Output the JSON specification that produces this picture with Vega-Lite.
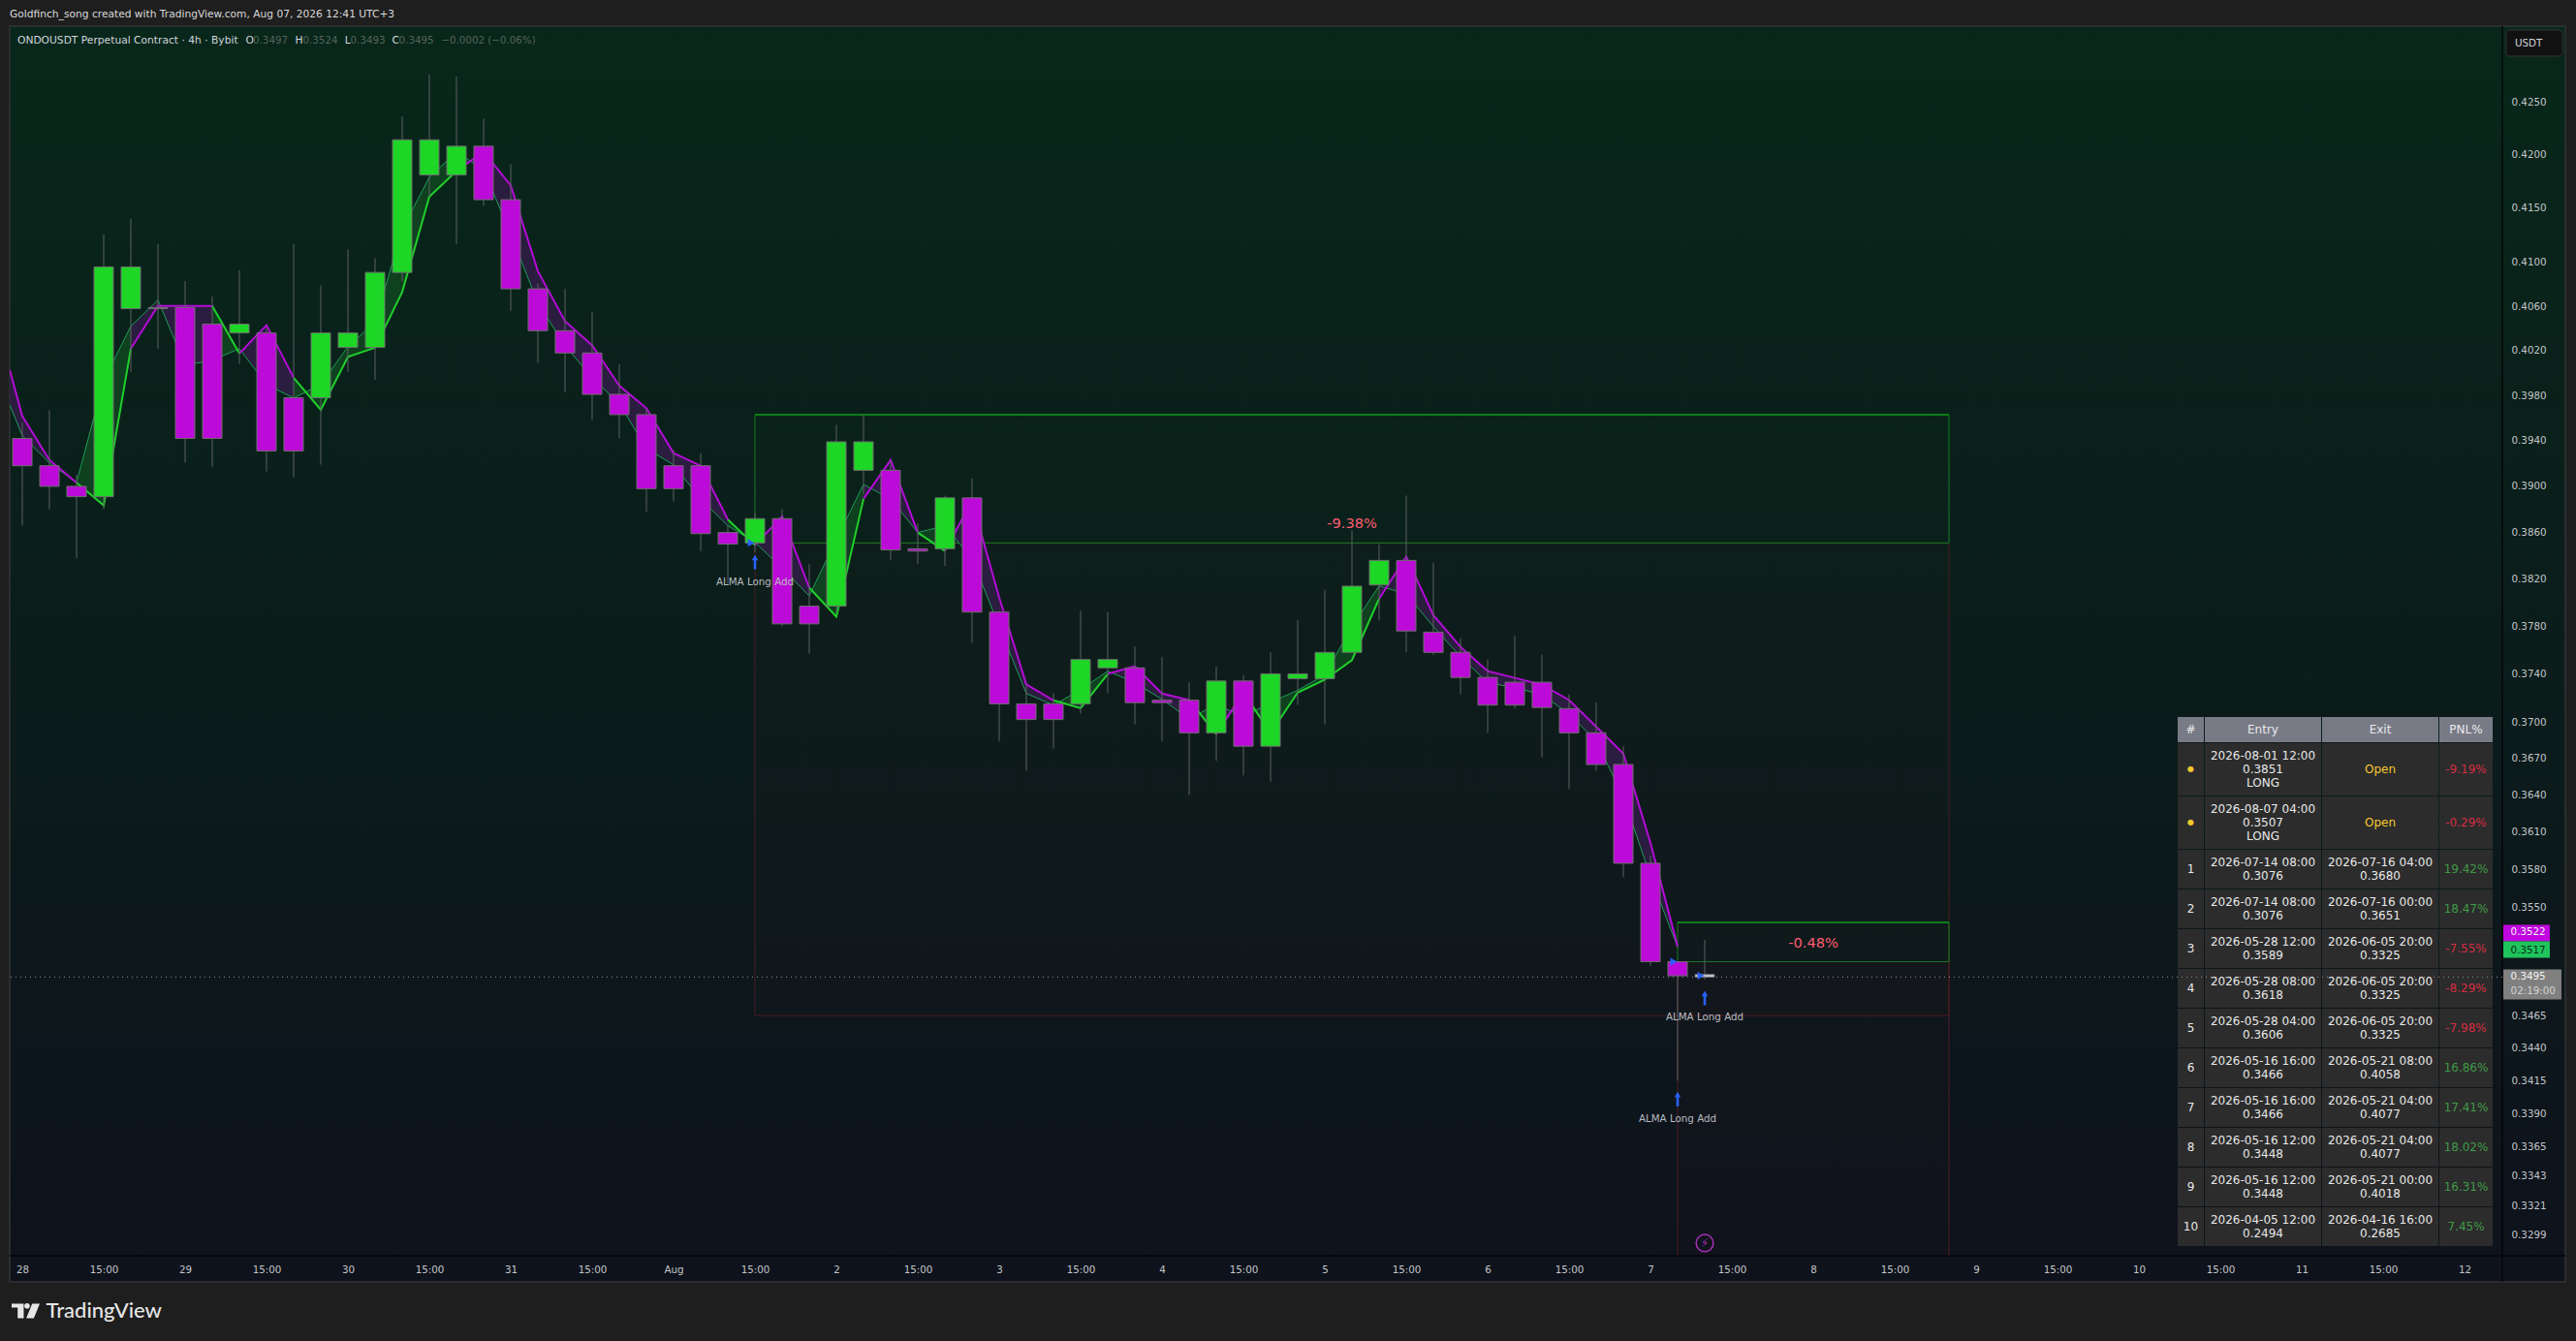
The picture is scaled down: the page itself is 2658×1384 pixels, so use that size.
{
  "$schema": "https://vega.github.io/schema/vega-lite/v6.json",
  "width": 2572,
  "height": 1269,
  "autosize": {"type": "none"},
  "padding": {"left": 10, "top": 27, "right": 76, "bottom": 88},
  "background": "#1e1e1e",
  "config": {
    "view": {"stroke": null},
    "text": {"font": "DejaVu Sans"}
  },
  "datasets": {
    "frame": [
      {"from": "2026-07-28T01:08:34Z", "axisStart": "2026-08-12T08:34:17Z", "to": "2026-08-12T17:52Z", "top": 0.43224, "plotBottom": 0.3284, "bottom": 0.32648}
    ],
    "candles": [
      {"t": "2026-07-28T03:00Z", "open": 0.3942, "high": 0.3956, "low": 0.3866, "close": 0.3918, "dir": "down"},
      {"t": "2026-07-28T07:00Z", "open": 0.3918, "high": 0.3967, "low": 0.388, "close": 0.39, "dir": "down"},
      {"t": "2026-07-28T11:00Z", "open": 0.39, "high": 0.391, "low": 0.3838, "close": 0.3891, "dir": "down"},
      {"t": "2026-07-28T15:00Z", "open": 0.3891, "high": 0.4126, "low": 0.388, "close": 0.4096, "dir": "up"},
      {"t": "2026-07-28T19:00Z", "open": 0.4058, "high": 0.414, "low": 0.4001, "close": 0.4096, "dir": "up"},
      {"t": "2026-07-28T23:00Z", "open": 0.4059, "high": 0.4117, "low": 0.4022, "close": 0.4058, "dir": "down"},
      {"t": "2026-07-29T03:00Z", "open": 0.4059, "high": 0.4083, "low": 0.3921, "close": 0.3942, "dir": "down"},
      {"t": "2026-07-29T07:00Z", "open": 0.4044, "high": 0.4069, "low": 0.3917, "close": 0.3942, "dir": "down"},
      {"t": "2026-07-29T11:00Z", "open": 0.4036, "high": 0.4093, "low": 0.4008, "close": 0.4044, "dir": "up"},
      {"t": "2026-07-29T15:00Z", "open": 0.4036, "high": 0.4041, "low": 0.3913, "close": 0.3931, "dir": "down"},
      {"t": "2026-07-29T19:00Z", "open": 0.3978, "high": 0.4117, "low": 0.3908, "close": 0.3931, "dir": "down"},
      {"t": "2026-07-29T23:00Z", "open": 0.3978, "high": 0.4079, "low": 0.3919, "close": 0.4036, "dir": "up"},
      {"t": "2026-07-30T03:00Z", "open": 0.4023, "high": 0.4112, "low": 0.4001, "close": 0.4036, "dir": "up"},
      {"t": "2026-07-30T07:00Z", "open": 0.4023, "high": 0.4104, "low": 0.3994, "close": 0.4091, "dir": "up"},
      {"t": "2026-07-30T11:00Z", "open": 0.4091, "high": 0.4236, "low": 0.4083, "close": 0.4214, "dir": "up"},
      {"t": "2026-07-30T15:00Z", "open": 0.4181, "high": 0.4276, "low": 0.4161, "close": 0.4214, "dir": "up"},
      {"t": "2026-07-30T19:00Z", "open": 0.4181, "high": 0.4274, "low": 0.4117, "close": 0.4208, "dir": "up"},
      {"t": "2026-07-30T23:00Z", "open": 0.4208, "high": 0.4234, "low": 0.4152, "close": 0.4158, "dir": "down"},
      {"t": "2026-07-31T03:00Z", "open": 0.4158, "high": 0.4191, "low": 0.4056, "close": 0.4076, "dir": "down"},
      {"t": "2026-07-31T07:00Z", "open": 0.4076, "high": 0.4081, "low": 0.4009, "close": 0.4038, "dir": "down"},
      {"t": "2026-07-31T11:00Z", "open": 0.4038, "high": 0.4076, "low": 0.3983, "close": 0.4018, "dir": "down"},
      {"t": "2026-07-31T15:00Z", "open": 0.4018, "high": 0.4055, "low": 0.3958, "close": 0.3981, "dir": "down"},
      {"t": "2026-07-31T19:00Z", "open": 0.3981, "high": 0.4008, "low": 0.3942, "close": 0.3963, "dir": "down"},
      {"t": "2026-07-31T23:00Z", "open": 0.3963, "high": 0.3968, "low": 0.3878, "close": 0.3898, "dir": "down"},
      {"t": "2026-08-01T03:00Z", "open": 0.3918, "high": 0.3932, "low": 0.3887, "close": 0.3898, "dir": "down"},
      {"t": "2026-08-01T07:00Z", "open": 0.3918, "high": 0.3929, "low": 0.3844, "close": 0.3859, "dir": "down"},
      {"t": "2026-08-01T11:00Z", "open": 0.386, "high": 0.3866, "low": 0.3816, "close": 0.385, "dir": "down"},
      {"t": "2026-08-01T15:00Z", "open": 0.3851, "high": 0.3877, "low": 0.3843, "close": 0.3872, "dir": "up"},
      {"t": "2026-08-01T19:00Z", "open": 0.3872, "high": 0.388, "low": 0.378, "close": 0.3782, "dir": "down"},
      {"t": "2026-08-01T23:00Z", "open": 0.3797, "high": 0.3833, "low": 0.3757, "close": 0.3782, "dir": "down"},
      {"t": "2026-08-02T03:00Z", "open": 0.3797, "high": 0.3954, "low": 0.3791, "close": 0.3939, "dir": "up"},
      {"t": "2026-08-02T07:00Z", "open": 0.3914, "high": 0.3963, "low": 0.3893, "close": 0.3939, "dir": "up"},
      {"t": "2026-08-02T11:00Z", "open": 0.3914, "high": 0.3923, "low": 0.3836, "close": 0.3845, "dir": "down"},
      {"t": "2026-08-02T15:00Z", "open": 0.3846, "high": 0.3868, "low": 0.3833, "close": 0.3844, "dir": "down"},
      {"t": "2026-08-02T19:00Z", "open": 0.3846, "high": 0.3892, "low": 0.3831, "close": 0.389, "dir": "up"},
      {"t": "2026-08-02T23:00Z", "open": 0.389, "high": 0.3907, "low": 0.3766, "close": 0.3792, "dir": "down"},
      {"t": "2026-08-03T03:00Z", "open": 0.3792, "high": 0.3793, "low": 0.3684, "close": 0.3715, "dir": "down"},
      {"t": "2026-08-03T07:00Z", "open": 0.3715, "high": 0.3731, "low": 0.366, "close": 0.3702, "dir": "down"},
      {"t": "2026-08-03T11:00Z", "open": 0.3715, "high": 0.3724, "low": 0.3678, "close": 0.3702, "dir": "down"},
      {"t": "2026-08-03T15:00Z", "open": 0.3715, "high": 0.3793, "low": 0.3707, "close": 0.3752, "dir": "up"},
      {"t": "2026-08-03T19:00Z", "open": 0.3745, "high": 0.3792, "low": 0.3724, "close": 0.3752, "dir": "up"},
      {"t": "2026-08-03T23:00Z", "open": 0.3745, "high": 0.3763, "low": 0.3698, "close": 0.3716, "dir": "down"},
      {"t": "2026-08-04T03:00Z", "open": 0.3718, "high": 0.3754, "low": 0.3684, "close": 0.3716, "dir": "down"},
      {"t": "2026-08-04T07:00Z", "open": 0.3718, "high": 0.3733, "low": 0.364, "close": 0.3691, "dir": "down"},
      {"t": "2026-08-04T11:00Z", "open": 0.3691, "high": 0.3746, "low": 0.3668, "close": 0.3734, "dir": "up"},
      {"t": "2026-08-04T15:00Z", "open": 0.3734, "high": 0.3739, "low": 0.3656, "close": 0.368, "dir": "down"},
      {"t": "2026-08-04T19:00Z", "open": 0.368, "high": 0.3758, "low": 0.3651, "close": 0.374, "dir": "up"},
      {"t": "2026-08-04T23:00Z", "open": 0.3736, "high": 0.3785, "low": 0.3714, "close": 0.374, "dir": "up"},
      {"t": "2026-08-05T03:00Z", "open": 0.3736, "high": 0.3811, "low": 0.3698, "close": 0.3758, "dir": "up"},
      {"t": "2026-08-05T07:00Z", "open": 0.3758, "high": 0.3862, "low": 0.3758, "close": 0.3814, "dir": "up"},
      {"t": "2026-08-05T11:00Z", "open": 0.3815, "high": 0.385, "low": 0.3785, "close": 0.3836, "dir": "up"},
      {"t": "2026-08-05T15:00Z", "open": 0.3836, "high": 0.3892, "low": 0.3758, "close": 0.3776, "dir": "down"},
      {"t": "2026-08-05T19:00Z", "open": 0.3775, "high": 0.3834, "low": 0.3756, "close": 0.3758, "dir": "down"},
      {"t": "2026-08-05T23:00Z", "open": 0.3758, "high": 0.377, "low": 0.3723, "close": 0.3737, "dir": "down"},
      {"t": "2026-08-06T03:00Z", "open": 0.3737, "high": 0.3752, "low": 0.3691, "close": 0.3714, "dir": "down"},
      {"t": "2026-08-06T07:00Z", "open": 0.3733, "high": 0.3772, "low": 0.3711, "close": 0.3714, "dir": "down"},
      {"t": "2026-08-06T11:00Z", "open": 0.3733, "high": 0.3756, "low": 0.3671, "close": 0.3712, "dir": "down"},
      {"t": "2026-08-06T15:00Z", "open": 0.3711, "high": 0.3723, "low": 0.3645, "close": 0.3691, "dir": "down"},
      {"t": "2026-08-06T19:00Z", "open": 0.3691, "high": 0.3716, "low": 0.366, "close": 0.3665, "dir": "down"},
      {"t": "2026-08-06T23:00Z", "open": 0.3665, "high": 0.368, "low": 0.3574, "close": 0.3585, "dir": "down"},
      {"t": "2026-08-07T03:00Z", "open": 0.3585, "high": 0.3591, "low": 0.3504, "close": 0.3507, "dir": "down"},
      {"t": "2026-08-07T07:00Z", "open": 0.3507, "high": 0.3507, "low": 0.3415, "close": 0.3496, "dir": "down"},
      {"t": "2026-08-07T11:00Z", "open": 0.3497, "high": 0.3524, "low": 0.3493, "close": 0.3495, "dir": "flat"}
    ],
    "alma": [
      {"t": "2026-07-28T01:08:34Z", "fast": 0.40029, "slow": 0.39718, "seg": 1, "dir": "down"},
      {"t": "2026-07-28T03:00Z", "fast": 0.39616, "slow": 0.39445, "seg": 1, "dir": "down"},
      {"t": "2026-07-28T07:00Z", "fast": 0.39231, "slow": 0.39205, "seg": 1, "dir": "down"},
      {"t": "2026-07-28T11:00Z", "fast": 0.39032, "slow": 0.39034, "seg": 1, "dir": "down"},
      {"t": "2026-07-28T11:00Z", "fast": 0.39032, "slow": 0.39034, "seg": 2, "dir": "up"},
      {"t": "2026-07-28T15:00Z", "fast": 0.38835, "slow": 0.39932, "seg": 2, "dir": "up"},
      {"t": "2026-07-28T19:00Z", "fast": 0.40219, "slow": 0.40421, "seg": 2, "dir": "up"},
      {"t": "2026-07-28T19:00Z", "fast": 0.40219, "slow": 0.40421, "seg": 3, "dir": "down"},
      {"t": "2026-07-28T23:00Z", "fast": 0.40605, "slow": 0.40658, "seg": 3, "dir": "down"},
      {"t": "2026-07-29T03:00Z", "fast": 0.40605, "slow": 0.4007, "seg": 3, "dir": "down"},
      {"t": "2026-07-29T07:00Z", "fast": 0.40605, "slow": 0.40114, "seg": 3, "dir": "down"},
      {"t": "2026-07-29T07:00Z", "fast": 0.40605, "slow": 0.40114, "seg": 4, "dir": "up"},
      {"t": "2026-07-29T11:00Z", "fast": 0.40175, "slow": 0.40219, "seg": 4, "dir": "up"},
      {"t": "2026-07-29T11:00Z", "fast": 0.40175, "slow": 0.40219, "seg": 5, "dir": "down"},
      {"t": "2026-07-29T15:00Z", "fast": 0.4043, "slow": 0.39898, "seg": 5, "dir": "down"},
      {"t": "2026-07-29T19:00Z", "fast": 0.39958, "slow": 0.39778, "seg": 5, "dir": "down"},
      {"t": "2026-07-29T19:00Z", "fast": 0.39958, "slow": 0.39778, "seg": 6, "dir": "up"},
      {"t": "2026-07-29T23:00Z", "fast": 0.39673, "slow": 0.39898, "seg": 6, "dir": "up"},
      {"t": "2026-07-30T03:00Z", "fast": 0.40146, "slow": 0.40237, "seg": 6, "dir": "up"},
      {"t": "2026-07-30T07:00Z", "fast": 0.40228, "slow": 0.40456, "seg": 6, "dir": "up"},
      {"t": "2026-07-30T11:00Z", "fast": 0.40731, "slow": 0.41305, "seg": 6, "dir": "up"},
      {"t": "2026-07-30T15:00Z", "fast": 0.41608, "slow": 0.4179, "seg": 6, "dir": "up"},
      {"t": "2026-07-30T19:00Z", "fast": 0.41847, "slow": 0.42025, "seg": 6, "dir": "up"},
      {"t": "2026-07-30T19:00Z", "fast": 0.41847, "slow": 0.42025, "seg": 7, "dir": "down"},
      {"t": "2026-07-30T23:00Z", "fast": 0.42028, "slow": 0.41862, "seg": 7, "dir": "down"},
      {"t": "2026-07-31T03:00Z", "fast": 0.41712, "slow": 0.4126, "seg": 7, "dir": "down"},
      {"t": "2026-07-31T07:00Z", "fast": 0.40921, "slow": 0.40631, "seg": 7, "dir": "down"},
      {"t": "2026-07-31T11:00Z", "fast": 0.40467, "slow": 0.40246, "seg": 7, "dir": "down"},
      {"t": "2026-07-31T15:00Z", "fast": 0.40248, "slow": 0.39958, "seg": 7, "dir": "down"},
      {"t": "2026-07-31T19:00Z", "fast": 0.39887, "slow": 0.39727, "seg": 7, "dir": "down"},
      {"t": "2026-07-31T23:00Z", "fast": 0.39687, "slow": 0.39333, "seg": 7, "dir": "down"},
      {"t": "2026-08-01T03:00Z", "fast": 0.39291, "slow": 0.39188, "seg": 7, "dir": "down"},
      {"t": "2026-08-01T07:00Z", "fast": 0.3918, "slow": 0.38891, "seg": 7, "dir": "down"},
      {"t": "2026-08-01T11:00Z", "fast": 0.38711, "slow": 0.38658, "seg": 7, "dir": "down"},
      {"t": "2026-08-01T11:00Z", "fast": 0.38711, "slow": 0.38658, "seg": 8, "dir": "up"},
      {"t": "2026-08-01T15:00Z", "fast": 0.38491, "slow": 0.38516, "seg": 8, "dir": "up"},
      {"t": "2026-08-01T15:00Z", "fast": 0.38491, "slow": 0.38516, "seg": 9, "dir": "down"},
      {"t": "2026-08-01T19:00Z", "fast": 0.38741, "slow": 0.38292, "seg": 9, "dir": "down"},
      {"t": "2026-08-01T23:00Z", "fast": 0.38127, "slow": 0.38058, "seg": 9, "dir": "down"},
      {"t": "2026-08-01T23:00Z", "fast": 0.38127, "slow": 0.38058, "seg": 10, "dir": "up"},
      {"t": "2026-08-02T03:00Z", "fast": 0.3788, "slow": 0.38541, "seg": 10, "dir": "up"},
      {"t": "2026-08-02T07:00Z", "fast": 0.38891, "slow": 0.39017, "seg": 10, "dir": "up"},
      {"t": "2026-08-02T07:00Z", "fast": 0.38891, "slow": 0.39017, "seg": 11, "dir": "down"},
      {"t": "2026-08-02T11:00Z", "fast": 0.39231, "slow": 0.38891, "seg": 11, "dir": "down"},
      {"t": "2026-08-02T15:00Z", "fast": 0.386, "slow": 0.386, "seg": 11, "dir": "down"},
      {"t": "2026-08-02T15:00Z", "fast": 0.386, "slow": 0.386, "seg": 12, "dir": "up"},
      {"t": "2026-08-02T19:00Z", "fast": 0.38441, "slow": 0.38658, "seg": 12, "dir": "up"},
      {"t": "2026-08-02T19:00Z", "fast": 0.38441, "slow": 0.38658, "seg": 13, "dir": "down"},
      {"t": "2026-08-02T23:00Z", "fast": 0.38875, "slow": 0.38375, "seg": 13, "dir": "down"},
      {"t": "2026-08-03T03:00Z", "fast": 0.38042, "slow": 0.37797, "seg": 13, "dir": "down"},
      {"t": "2026-08-03T07:00Z", "fast": 0.37312, "slow": 0.37236, "seg": 13, "dir": "down"},
      {"t": "2026-08-03T11:00Z", "fast": 0.37179, "slow": 0.37139, "seg": 13, "dir": "down"},
      {"t": "2026-08-03T11:00Z", "fast": 0.37179, "slow": 0.37139, "seg": 14, "dir": "up"},
      {"t": "2026-08-03T15:00Z", "fast": 0.37114, "slow": 0.37269, "seg": 14, "dir": "up"},
      {"t": "2026-08-03T19:00Z", "fast": 0.37399, "slow": 0.37423, "seg": 14, "dir": "up"},
      {"t": "2026-08-03T19:00Z", "fast": 0.37399, "slow": 0.37423, "seg": 15, "dir": "down"},
      {"t": "2026-08-03T23:00Z", "fast": 0.37464, "slow": 0.37326, "seg": 15, "dir": "down"},
      {"t": "2026-08-04T03:00Z", "fast": 0.37236, "slow": 0.37188, "seg": 15, "dir": "down"},
      {"t": "2026-08-04T07:00Z", "fast": 0.37182, "slow": 0.37025, "seg": 15, "dir": "down"},
      {"t": "2026-08-04T07:00Z", "fast": 0.37182, "slow": 0.37025, "seg": 16, "dir": "up"},
      {"t": "2026-08-04T11:00Z", "fast": 0.36898, "slow": 0.37147, "seg": 16, "dir": "up"},
      {"t": "2026-08-04T11:00Z", "fast": 0.36898, "slow": 0.37147, "seg": 17, "dir": "down"},
      {"t": "2026-08-04T15:00Z", "fast": 0.37244, "slow": 0.37041, "seg": 17, "dir": "down"},
      {"t": "2026-08-04T15:00Z", "fast": 0.37244, "slow": 0.37041, "seg": 18, "dir": "up"},
      {"t": "2026-08-04T19:00Z", "fast": 0.36909, "slow": 0.37163, "seg": 18, "dir": "up"},
      {"t": "2026-08-04T23:00Z", "fast": 0.37244, "slow": 0.37263, "seg": 18, "dir": "up"},
      {"t": "2026-08-05T03:00Z", "fast": 0.37352, "slow": 0.37391, "seg": 18, "dir": "up"},
      {"t": "2026-08-05T07:00Z", "fast": 0.37515, "slow": 0.37797, "seg": 18, "dir": "up"},
      {"t": "2026-08-05T11:00Z", "fast": 0.38033, "slow": 0.38142, "seg": 18, "dir": "up"},
      {"t": "2026-08-05T11:00Z", "fast": 0.38033, "slow": 0.38142, "seg": 19, "dir": "down"},
      {"t": "2026-08-05T15:00Z", "fast": 0.38392, "slow": 0.38075, "seg": 19, "dir": "down"},
      {"t": "2026-08-05T19:00Z", "fast": 0.37894, "slow": 0.37797, "seg": 19, "dir": "down"},
      {"t": "2026-08-05T23:00Z", "fast": 0.37626, "slow": 0.37545, "seg": 19, "dir": "down"},
      {"t": "2026-08-06T03:00Z", "fast": 0.37423, "slow": 0.37326, "seg": 19, "dir": "down"},
      {"t": "2026-08-06T07:00Z", "fast": 0.37366, "slow": 0.37285, "seg": 19, "dir": "down"},
      {"t": "2026-08-06T11:00Z", "fast": 0.37309, "slow": 0.37228, "seg": 19, "dir": "down"},
      {"t": "2026-08-06T15:00Z", "fast": 0.37182, "slow": 0.37066, "seg": 19, "dir": "down"},
      {"t": "2026-08-06T19:00Z", "fast": 0.36961, "slow": 0.36843, "seg": 19, "dir": "down"},
      {"t": "2026-08-06T23:00Z", "fast": 0.3674, "slow": 0.36385, "seg": 19, "dir": "down"},
      {"t": "2026-08-07T03:00Z", "fast": 0.36013, "slow": 0.35744, "seg": 19, "dir": "down"},
      {"t": "2026-08-07T07:00Z", "fast": 0.35191, "slow": 0.35184, "seg": 19, "dir": "down"}
    ],
    "boxes": [
      {"from": "2026-08-01T15:00Z", "to": "2026-08-08T23:00Z", "top": 0.3963, "entry": 0.3851, "stop": 0.3465},
      {"from": "2026-08-07T07:00Z", "to": "2026-08-08T23:00Z", "top": 0.3538, "entry": 0.3507, "stop": 0.327}
    ],
    "pct": [
      {"t": "2026-08-05T07:00Z", "price": 0.38669, "text": "-9.38%"},
      {"t": "2026-08-08T03:00Z", "price": 0.35214, "text": "-0.48%"}
    ],
    "signals": [
      {"t": "2026-08-01T15:00Z", "fill": 0.3851, "arrow": 0.38346, "note": 0.38175, "text": "ALMA Long Add"},
      {"t": "2026-08-07T07:00Z", "fill": 0.3507, "arrow": 0.3401, "note": 0.3386, "text": "ALMA Long Add"},
      {"t": "2026-08-07T11:00Z", "fill": 0.3496, "arrow": 0.34786, "note": 0.3464, "text": "ALMA Long Add"}
    ],
    "header": [
      {"t": "2026-07-28T01:08:34Z", "price": 0.43336, "role": "title", "text": "Goldfinch_song created with TradingView.com, Aug 07, 2026 12:41 UTC+3"},
      {"t": "2026-07-28T02:17Z", "price": 0.43086, "role": "name", "text": "ONDOUSDT Perpetual Contract · 4h · Bybit"},
      {"t": "2026-07-29T11:56Z", "price": 0.43086, "role": "name", "text": "O"},
      {"t": "2026-07-29T13:00Z", "price": 0.43086, "role": "quote", "text": "0.3497"},
      {"t": "2026-07-29T19:13Z", "price": 0.43086, "role": "name", "text": "H"},
      {"t": "2026-07-29T20:21Z", "price": 0.43086, "role": "quote", "text": "0.3524"},
      {"t": "2026-07-30T02:32Z", "price": 0.43086, "role": "name", "text": "L"},
      {"t": "2026-07-30T03:22Z", "price": 0.43086, "role": "quote", "text": "0.3493"},
      {"t": "2026-07-30T09:30Z", "price": 0.43086, "role": "name", "text": "C"},
      {"t": "2026-07-30T10:31Z", "price": 0.43086, "role": "quote", "text": "0.3495"},
      {"t": "2026-07-30T16:46Z", "price": 0.43086, "role": "quote", "text": "−0.0002 (−0.06%)"}
    ],
    "tags": [
      {"kind": "fast", "text": "0.3522", "t": "2026-08-12T09:48Z", "at": 0.353, "hi": 0.3536, "lo": 0.3523, "from": "2026-08-12T08:43Z", "to": "2026-08-12T15:34Z"},
      {"kind": "slow", "text": "0.3517", "t": "2026-08-12T09:48Z", "at": 0.3516, "hi": 0.3523, "lo": 0.351, "from": "2026-08-12T08:43Z", "to": "2026-08-12T15:34Z"},
      {"kind": "last", "text": "0.3495", "t": "2026-08-12T09:48Z", "at": 0.3495, "hi": 0.3501, "lo": 0.34775, "from": "2026-08-12T08:43Z", "to": "2026-08-12T17:17Z"},
      {"kind": "countdown", "text": "02:19:00", "t": "2026-08-12T09:48Z", "at": 0.34842}
    ],
    "table": [
      {"row": "head", "col": "#", "text": "#", "kind": "head"},
      {"row": "head", "col": "Entry", "text": "Entry", "kind": "head"},
      {"row": "head", "col": "Exit", "text": "Exit", "kind": "head"},
      {"row": "head", "col": "PNL%", "text": "PNL%", "kind": "head"},
      {"row": "a", "col": "#", "text": "●", "kind": "dot"},
      {"row": "a", "col": "Entry", "text": "2026-08-01 12:00\n0.3851\nLONG", "kind": "text"},
      {"row": "a", "col": "Exit", "text": "Open", "kind": "open"},
      {"row": "a", "col": "PNL%", "text": "-9.19%", "kind": "loss"},
      {"row": "b", "col": "#", "text": "●", "kind": "dot"},
      {"row": "b", "col": "Entry", "text": "2026-08-07 04:00\n0.3507\nLONG", "kind": "text"},
      {"row": "b", "col": "Exit", "text": "Open", "kind": "open"},
      {"row": "b", "col": "PNL%", "text": "-0.29%", "kind": "loss"},
      {"row": "1", "col": "#", "text": "1", "kind": "text"},
      {"row": "1", "col": "Entry", "text": "2026-07-14 08:00\n0.3076", "kind": "text"},
      {"row": "1", "col": "Exit", "text": "2026-07-16 04:00\n0.3680", "kind": "text"},
      {"row": "1", "col": "PNL%", "text": "19.42%", "kind": "gain"},
      {"row": "2", "col": "#", "text": "2", "kind": "text"},
      {"row": "2", "col": "Entry", "text": "2026-07-14 08:00\n0.3076", "kind": "text"},
      {"row": "2", "col": "Exit", "text": "2026-07-16 00:00\n0.3651", "kind": "text"},
      {"row": "2", "col": "PNL%", "text": "18.47%", "kind": "gain"},
      {"row": "3", "col": "#", "text": "3", "kind": "text"},
      {"row": "3", "col": "Entry", "text": "2026-05-28 12:00\n0.3589", "kind": "text"},
      {"row": "3", "col": "Exit", "text": "2026-06-05 20:00\n0.3325", "kind": "text"},
      {"row": "3", "col": "PNL%", "text": "-7.55%", "kind": "loss"},
      {"row": "4", "col": "#", "text": "4", "kind": "text"},
      {"row": "4", "col": "Entry", "text": "2026-05-28 08:00\n0.3618", "kind": "text"},
      {"row": "4", "col": "Exit", "text": "2026-06-05 20:00\n0.3325", "kind": "text"},
      {"row": "4", "col": "PNL%", "text": "-8.29%", "kind": "loss"},
      {"row": "5", "col": "#", "text": "5", "kind": "text"},
      {"row": "5", "col": "Entry", "text": "2026-05-28 04:00\n0.3606", "kind": "text"},
      {"row": "5", "col": "Exit", "text": "2026-06-05 20:00\n0.3325", "kind": "text"},
      {"row": "5", "col": "PNL%", "text": "-7.98%", "kind": "loss"},
      {"row": "6", "col": "#", "text": "6", "kind": "text"},
      {"row": "6", "col": "Entry", "text": "2026-05-16 16:00\n0.3466", "kind": "text"},
      {"row": "6", "col": "Exit", "text": "2026-05-21 08:00\n0.4058", "kind": "text"},
      {"row": "6", "col": "PNL%", "text": "16.86%", "kind": "gain"},
      {"row": "7", "col": "#", "text": "7", "kind": "text"},
      {"row": "7", "col": "Entry", "text": "2026-05-16 16:00\n0.3466", "kind": "text"},
      {"row": "7", "col": "Exit", "text": "2026-05-21 04:00\n0.4077", "kind": "text"},
      {"row": "7", "col": "PNL%", "text": "17.41%", "kind": "gain"},
      {"row": "8", "col": "#", "text": "8", "kind": "text"},
      {"row": "8", "col": "Entry", "text": "2026-05-16 12:00\n0.3448", "kind": "text"},
      {"row": "8", "col": "Exit", "text": "2026-05-21 04:00\n0.4077", "kind": "text"},
      {"row": "8", "col": "PNL%", "text": "18.02%", "kind": "gain"},
      {"row": "9", "col": "#", "text": "9", "kind": "text"},
      {"row": "9", "col": "Entry", "text": "2026-05-16 12:00\n0.3448", "kind": "text"},
      {"row": "9", "col": "Exit", "text": "2026-05-21 00:00\n0.4018", "kind": "text"},
      {"row": "9", "col": "PNL%", "text": "16.31%", "kind": "gain"},
      {"row": "10", "col": "#", "text": "10", "kind": "text"},
      {"row": "10", "col": "Entry", "text": "2026-04-05 12:00\n0.2494", "kind": "text"},
      {"row": "10", "col": "Exit", "text": "2026-04-16 16:00\n0.2685", "kind": "text"},
      {"row": "10", "col": "PNL%", "text": "7.45%", "kind": "gain"}
    ]
  },
  "resolve": {"scale": {"x": "independent", "y": "independent", "color": "independent"}},
  "layer": [
    {
      "encoding": {
        "x": {
          "field": "t",
          "type": "temporal",
          "title": null,
          "scale": {"type": "utc", "domain": ["2026-07-28T01:08:34Z", "2026-08-12T08:34:17Z"], "nice": false, "padding": 0},
          "axis": {
            "orient": "bottom",
            "zindex": 1,
            "grid": false,
            "domain": false,
            "ticks": false,
            "labelPadding": 9,
            "labelFont": "DejaVu Sans",
            "labelFontSize": 10.3,
            "labelColor": "#c3c6c8",
            "labelOverlap": false,
            "labelFlush": false,
            "labelExpr": "utcFormat(datum.value, '%H') == '15' ? '15:00' : (utcFormat(datum.value, '%d') == '01' ? 'Aug' : utcFormat(datum.value, '%-d'))",
            "values": ["2026-07-28T03:00:00Z", "2026-07-28T15:00:00Z", "2026-07-29T03:00:00Z", "2026-07-29T15:00:00Z", "2026-07-30T03:00:00Z", "2026-07-30T15:00:00Z", "2026-07-31T03:00:00Z", "2026-07-31T15:00:00Z", "2026-08-01T03:00:00Z", "2026-08-01T15:00:00Z", "2026-08-02T03:00:00Z", "2026-08-02T15:00:00Z", "2026-08-03T03:00:00Z", "2026-08-03T15:00:00Z", "2026-08-04T03:00:00Z", "2026-08-04T15:00:00Z", "2026-08-05T03:00:00Z", "2026-08-05T15:00:00Z", "2026-08-06T03:00:00Z", "2026-08-06T15:00:00Z", "2026-08-07T03:00:00Z", "2026-08-07T15:00:00Z", "2026-08-08T03:00:00Z", "2026-08-08T15:00:00Z", "2026-08-09T03:00:00Z", "2026-08-09T15:00:00Z", "2026-08-10T03:00:00Z", "2026-08-10T15:00:00Z", "2026-08-11T03:00:00Z", "2026-08-11T15:00:00Z", "2026-08-12T03:00:00Z"]
          }
        },
        "y": {
          "field": "price",
          "type": "quantitative",
          "title": null,
          "scale": {"type": "log", "domain": [0.3284, 0.43224], "nice": false, "zero": false},
          "axis": {
            "orient": "right",
            "zindex": 1,
            "grid": false,
            "domain": false,
            "ticks": false,
            "labelPadding": 9,
            "format": ".4f",
            "labelFont": "DejaVu Sans",
            "labelFontSize": 10.3,
            "labelColor": "#c3c6c8",
            "labelOverlap": false,
            "labelFlush": false,
            "values": [0.425, 0.42, 0.415, 0.41, 0.406, 0.402, 0.398, 0.394, 0.39, 0.386, 0.382, 0.378, 0.374, 0.37, 0.367, 0.364, 0.361, 0.358, 0.355, 0.3465, 0.344, 0.3415, 0.339, 0.3365, 0.3343, 0.3321, 0.3299]
          }
        }
      },
      "layer": [
        {
          "data": {"name": "frame"},
          "mark": {
            "type": "rect",
            "stroke": "#2b2e2f",
            "strokeWidth": 2,
            "color": {
              "gradient": "linear",
              "x1": 0, "y1": 0, "x2": 0, "y2": 1,
              "stops": [{"offset": 0, "color": "#08271a"}, {"offset": 1, "color": "#0e121c"}]
            }
          },
          "encoding": {
            "x": {"field": "from", "type": "temporal"},
            "x2": {"field": "to"},
            "y": {"field": "top", "type": "quantitative"},
            "y2": {"field": "bottom"}
          }
        },
        {
          "data": {"name": "frame"},
          "mark": {"type": "rule", "color": "#050608", "strokeWidth": 1.5},
          "encoding": {
            "x": {"field": "axisStart", "type": "temporal"},
            "y": {"field": "top", "type": "quantitative"},
            "y2": {"field": "bottom"}
          }
        },
        {
          "data": {"name": "frame"},
          "mark": {"type": "rule", "color": "#050608", "strokeWidth": 1.5},
          "encoding": {
            "x": {"field": "from", "type": "temporal"},
            "x2": {"field": "to"},
            "y": {"field": "plotBottom", "type": "quantitative"}
          }
        },
        {
          "data": {"name": "boxes"},
          "mark": {"type": "rect", "fill": "#ff3040", "fillOpacity": 0.015, "stroke": "#4a1c20", "strokeWidth": 1, "clip": true},
          "encoding": {
            "x": {"field": "from", "type": "temporal"},
            "x2": {"field": "to"},
            "y": {"field": "entry", "type": "quantitative"},
            "y2": {"field": "stop"}
          }
        },
        {
          "data": {"name": "boxes"},
          "mark": {"type": "rect", "fill": "#20c040", "fillOpacity": 0.015, "stroke": "#177a22", "strokeWidth": 1},
          "encoding": {
            "x": {"field": "from", "type": "temporal"},
            "x2": {"field": "to"},
            "y": {"field": "top", "type": "quantitative"},
            "y2": {"field": "entry"}
          }
        },
        {
          "data": {"name": "boxes"},
          "mark": {"type": "rule", "color": "#0c7d18", "strokeWidth": 2},
          "encoding": {
            "x": {"field": "from", "type": "temporal"},
            "x2": {"field": "to"},
            "y": {"field": "top", "type": "quantitative"}
          }
        },
        {
          "data": {"name": "alma"},
          "transform": [{"filter": "datum.dir === 'down'"}],
          "mark": {"type": "area", "color": "#2b1d3f", "clip": true},
          "encoding": {
            "y": {"field": "fast", "type": "quantitative"},
            "y2": {"field": "slow"},
            "detail": {"field": "seg", "type": "nominal"}
          }
        },
        {
          "data": {"name": "alma"},
          "transform": [{"filter": "datum.dir === 'up'"}],
          "mark": {"type": "area", "color": "#0f401f", "clip": true},
          "encoding": {
            "y": {"field": "fast", "type": "quantitative"},
            "y2": {"field": "slow"},
            "detail": {"field": "seg", "type": "nominal"}
          }
        },
        {
          "data": {"name": "alma"},
          "mark": {"type": "line", "color": "#1d9c58", "strokeWidth": 1, "clip": true},
          "encoding": {
            "y": {"field": "slow", "type": "quantitative"}
          }
        },
        {
          "data": {"name": "alma"},
          "transform": [{"filter": "datum.dir === 'down'"}],
          "mark": {"type": "line", "color": "#b40bd8", "strokeWidth": 2, "clip": true},
          "encoding": {
            "y": {"field": "fast", "type": "quantitative"},
            "detail": {"field": "seg", "type": "nominal"}
          }
        },
        {
          "data": {"name": "alma"},
          "transform": [{"filter": "datum.dir === 'up'"}],
          "mark": {"type": "line", "color": "#1fd02a", "strokeWidth": 2, "clip": true},
          "encoding": {
            "y": {"field": "fast", "type": "quantitative"},
            "detail": {"field": "seg", "type": "nominal"}
          }
        },
        {
          "data": {"name": "candles"},
          "mark": {"type": "rule", "color": "#5c6062", "strokeWidth": 1},
          "encoding": {
            "y": {"field": "high", "type": "quantitative"},
            "y2": {"field": "low"}
          }
        },
        {
          "data": {"name": "candles"},
          "mark": {"type": "bar", "size": 20, "stroke": "#6e6e6e", "strokeWidth": 1},
          "encoding": {
            "y": {"field": "open", "type": "quantitative"},
            "y2": {"field": "close"},
            "color": {
              "field": "dir",
              "type": "nominal",
              "legend": null,
              "scale": {"domain": ["up", "down", "flat"], "range": ["#1ed626", "#bc0ad8", "#d1d4dc"]}
            }
          }
        },
        {
          "data": {"name": "signals"},
          "mark": {"type": "point", "shape": "triangle-right", "size": 64, "filled": true, "opacity": 1, "color": "#2962ff", "xOffset": -4},
          "encoding": {
            "y": {"field": "fill", "type": "quantitative"}
          }
        },
        {
          "data": {"name": "signals"},
          "mark": {
            "type": "point",
            "shape": "M0,-1L0.42,-0.25H0.17V1H-0.17V-0.25H-0.42Z",
            "size": 225,
            "filled": true,
            "opacity": 1,
            "color": "#2962ff"
          },
          "encoding": {
            "y": {"field": "arrow", "type": "quantitative"}
          }
        },
        {
          "data": {"name": "signals"},
          "mark": {"type": "text", "color": "#b9bcc0", "fontSize": 10.3, "baseline": "middle"},
          "encoding": {
            "y": {"field": "note", "type": "quantitative"},
            "text": {"field": "text"}
          }
        },
        {
          "data": {"name": "pct"},
          "mark": {"type": "text", "color": "#fb5c72", "fontSize": 14.6, "baseline": "middle"},
          "encoding": {
            "y": {"field": "price", "type": "quantitative"},
            "text": {"field": "text"}
          }
        },
        {
          "data": {"values": [{"t": "2026-08-07T11:00Z", "price": 0.32933, "text": "⚡"}]},
          "mark": {"type": "point", "shape": "circle", "size": 314, "filled": false, "opacity": 1, "stroke": "#a52fb8", "strokeWidth": 1.5},
          "encoding": {
            "y": {"field": "price", "type": "quantitative"}
          }
        },
        {
          "data": {"values": [{"t": "2026-08-07T11:00Z", "price": 0.32933, "text": "⚡"}]},
          "mark": {"type": "text", "color": "#a52fb8", "fontSize": 12, "baseline": "middle"},
          "encoding": {
            "y": {"field": "price", "type": "quantitative"},
            "text": {"field": "text"}
          }
        },
        {
          "data": {"name": "header"},
          "transform": [{"filter": "datum.role === 'title'"}],
          "mark": {"type": "text", "color": "#d9d9d9", "fontSize": 10.66, "align": "left", "baseline": "middle"},
          "encoding": {
            "y": {"field": "price", "type": "quantitative"},
            "text": {"field": "text"}
          }
        },
        {
          "data": {"name": "header"},
          "transform": [{"filter": "datum.role === 'name'"}],
          "mark": {"type": "text", "color": "#d1d4dc", "fontSize": 10.7, "align": "left", "baseline": "middle"},
          "encoding": {
            "y": {"field": "price", "type": "quantitative"},
            "text": {"field": "text"}
          }
        },
        {
          "data": {"name": "header"},
          "transform": [{"filter": "datum.role === 'quote'"}],
          "mark": {"type": "text", "color": "#56635c", "fontSize": 10.3, "align": "left", "baseline": "middle"},
          "encoding": {
            "y": {"field": "price", "type": "quantitative"},
            "text": {"field": "text"}
          }
        },
        {
          "data": {"values": [{"t": "2026-07-28T03:30Z", "price": 0.32437, "name": "logo"}]},
          "mark": {
            "type": "point",
            "shape": "M-1,-0.52H-0.14V0.52H-0.57V-0.24H-1ZM0.46,-0.52H1L0.58,0.52H0.04ZM-0.1,-0.36a0.2,0.2 0 1 0 0.4,0a0.2,0.2 0 1 0 -0.4,0Z",
            "size": 841,
            "filled": true,
            "opacity": 1,
            "color": "#e6e6e6"
          },
          "encoding": {
            "y": {"field": "price", "type": "quantitative"}
          }
        },
        {
          "data": {"values": [{"t": "2026-07-28T06:30Z", "price": 0.32437, "text": "TradingView"}]},
          "mark": {"type": "text", "font": "Lato", "fontSize": 22, "fontWeight": 500, "color": "#e6e6e6", "align": "left", "baseline": "middle"},
          "encoding": {
            "y": {"field": "price", "type": "quantitative"},
            "text": {"field": "text"}
          }
        }
      ]
    },
    {
      "data": {"name": "table"},
      "transform": [
        {"calculate": "{'#': 0, 'Entry': 28, 'Exit': 149, 'PNL%': 270}[datum.col]", "as": "left"},
        {"calculate": "{'#': 27, 'Entry': 148, 'Exit': 269, 'PNL%': 325}[datum.col]", "as": "right"},
        {"calculate": "{'head': 0, 'a': 27, 'b': 82, '1': 137, '2': 178, '3': 219, '4': 260, '5': 301, '6': 342, '7': 383, '8': 424, '9': 465, '10': 506}[datum.row]", "as": "top"},
        {"calculate": "datum.top + (datum.row === 'head' ? 26 : (datum.row === 'a' || datum.row === 'b' ? 54 : 40))", "as": "bottom"}
      ],
      "mark": {"type": "rect"},
      "encoding": {
        "x": {"field": "left", "type": "quantitative", "axis": null, "scale": {"domain": [0, 325], "range": [2237, 2562], "nice": false, "zero": false}},
        "x2": {"field": "right"},
        "y": {"field": "top", "type": "quantitative", "axis": null, "scale": {"domain": [0, 546], "range": [713, 1259], "nice": false, "zero": false}},
        "y2": {"field": "bottom"},
        "color": {"condition": {"test": "datum.row === 'head'", "value": "#787b86"}, "value": "#2c2c2c"}
      }
    },
    {
      "encoding": {
        "x": {"field": "t", "type": "temporal", "axis": null, "scale": {"type": "utc", "domain": ["2026-07-28T01:08:34Z", "2026-08-12T08:34:17Z"], "nice": false}},
        "y": {"field": "at", "type": "quantitative", "axis": null, "scale": {"type": "log", "domain": [0.3284, 0.43224], "nice": false, "zero": false}}
      },
      "layer": [
        {
          "data": {"values": [{"last": 0.3495}]},
          "mark": {"type": "rule", "color": "#8f9496", "strokeWidth": 1, "strokeDash": [1, 4]},
          "encoding": {
            "x": null,
            "y": {"field": "last", "type": "quantitative"}
          }
        },
        {
          "data": {"name": "tags"},
          "transform": [{"filter": "isValid(datum.hi)"}],
          "mark": {"type": "rect"},
          "encoding": {
            "x": {"field": "from", "type": "temporal"},
            "x2": {"field": "to"},
            "y": {"field": "hi", "type": "quantitative"},
            "y2": {"field": "lo"},
            "color": {
              "field": "kind",
              "type": "nominal",
              "legend": null,
              "scale": {"domain": ["fast", "slow", "last"], "range": ["#c107df", "#1fc45c", "#808080"]}
            }
          }
        },
        {
          "data": {"name": "tags"},
          "mark": {"type": "text", "fontSize": 10.3, "align": "left", "baseline": "middle"},
          "encoding": {
            "text": {"field": "text"},
            "color": {"condition": [{"test": "datum.kind === 'slow'", "value": "#08301a"}, {"test": "datum.kind === 'countdown'", "value": "#d4d4d4"}], "value": "#f6f6f6"}
          }
        },
        {
          "data": {"values": [{"from": "2026-08-12T09:08Z", "to": "2026-08-12T17:26Z", "hi": 0.43186, "lo": 0.42935}]},
          "mark": {"type": "rect", "fill": "#111111", "stroke": "#333536", "strokeWidth": 1, "cornerRadius": 4},
          "encoding": {
            "x": {"field": "from", "type": "temporal"},
            "x2": {"field": "to"},
            "y": {"field": "hi", "type": "quantitative"},
            "y2": {"field": "lo"}
          }
        },
        {
          "data": {"values": [{"t": "2026-08-12T10:26Z", "at": 0.4306, "text": "USDT"}]},
          "mark": {"type": "text", "fontSize": 10.3, "color": "#d1d4dc", "align": "left", "baseline": "middle"},
          "encoding": {
            "text": {"field": "text"}
          }
        }
      ]
    },
    {
      "data": {"name": "table"},
      "transform": [
        {"calculate": "{'#': 13.5, 'Entry': 88, 'Exit': 209, 'PNL%': 297.5}[datum.col]", "as": "center"},
        {"calculate": "{'head': 13, 'a': 54, 'b': 109, '1': 157, '2': 198, '3': 239, '4': 280, '5': 321, '6': 362, '7': 403, '8': 444, '9': 485, '10': 526}[datum.row] - 7 * (length(split(datum.text, '\\n')) - 1)", "as": "middle"}
      ],
      "mark": {"type": "text", "lineBreak": "\n", "lineHeight": 14, "baseline": "middle", "align": "center"},
      "encoding": {
        "x": {"field": "center", "type": "quantitative", "axis": null, "scale": {"domain": [0, 325], "range": [2237, 2562], "nice": false, "zero": false}},
        "y": {"field": "middle", "type": "quantitative", "axis": null, "scale": {"domain": [0, 546], "range": [713, 1259], "nice": false, "zero": false}},
        "text": {"field": "text"},
        "size": {"condition": {"test": "datum.kind === 'dot'", "value": 8}, "value": 12},
        "color": {
          "field": "kind",
          "type": "nominal",
          "legend": null,
          "scale": {"domain": ["head", "text", "dot", "open", "gain", "loss"], "range": ["#e8e8ea", "#e8e8e8", "#f7c92f", "#f7c92f", "#3f9a48", "#d62c41"]}
        }
      }
    }
  ]
}
